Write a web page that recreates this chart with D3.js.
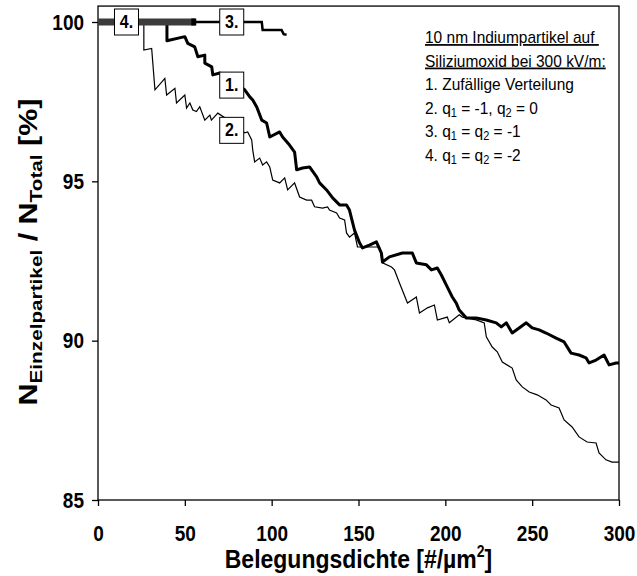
<!DOCTYPE html>
<html>
<head>
<meta charset="utf-8">
<title>Einzelpartikel vs. Belegungsdichte</title>
<script src="https://cdn.jsdelivr.net/npm/d3@7"></script>
<style>
    body { margin: 0; background: #fff; }
    svg text { font-family: "Liberation Sans", Arial, sans-serif; fill: #000; }
</style>
</head>
<body>
<svg id="chart" width="637" height="576"></svg>

<script type="text/javascript">
    // values
    const xTicks = [0, 50, 100, 150, 200, 250, 300];
    const yTicks = [85, 90, 95, 100];

    /// 1. random distribution (thick)
    const series1 = [
        [0, 100], [39.7, 100], [39.7, 99.41], [50.0, 99.54], [51.7, 99.33], [55.7, 99.22],
        [57.5, 98.91], [61.5, 98.96], [61.5, 98.71], [65.5, 98.59], [66.1, 98.34], [70.1, 98.40],
        [78, 98.1], [84.5, 97.87], [87.4, 97.65], [89.1, 97.55], [91.4, 97.33], [94.3, 96.92],
        [97.1, 96.83], [98.9, 96.39], [104.6, 96.55], [106.3, 96.39], [110.3, 96.14], [113.2, 95.92],
        [114.4, 95.36], [117.8, 95.42], [121.8, 95.45], [125.9, 95.14], [127.6, 94.95], [131.6, 94.73],
        [135.1, 94.48], [139.1, 94.26], [143.1, 94.26], [144.8, 94.10], [147.7, 93.47], [150.6, 93.07],
        [152.3, 92.91], [156.3, 93.00], [160.3, 93.10], [163.2, 92.75], [163.8, 92.47], [167.8, 92.63],
        [175.3, 92.75], [181.0, 92.75], [183.3, 92.44], [189.1, 92.38], [192.0, 92.22], [195.4, 92.28],
        [197.7, 92.06], [201.1, 91.69], [204.0, 91.37], [206.3, 91.18], [208.0, 90.96], [212.1, 90.71],
        [217.8, 90.71], [223.6, 90.65], [229.3, 90.56], [232.2, 90.43], [235.1, 90.56], [238.5, 90.24],
        [242.5, 90.40], [246.6, 90.56], [250.0, 90.40], [254.0, 90.34], [258.0, 90.24], [263.8, 90.08],
        [268.4, 89.96], [272.4, 89.61], [277.0, 89.55], [281.0, 89.46], [282.8, 89.30], [286.8, 89.39],
        [291.4, 89.55], [294.3, 89.24], [298.3, 89.30], [300, 89.30]
    ];

    /// 2. q1 = -1, q2 = 0 (thin)
    const series2 = [
        [0, 100], [26.4, 100], [26.4, 99.12], [30.9, 99.17], [31.8, 98.55], [32.8, 97.87],
        [38.5, 98.23], [39.5, 97.71], [44.3, 97.92], [45.2, 97.46], [50.0, 97.71], [51.0, 97.30],
        [52.9, 97.46], [54.6, 97.24], [56.7, 97.19], [58.6, 97.34], [61.5, 96.92], [64.4, 97.08],
        [65.3, 96.92], [69.0, 97.14], [77.6, 96.83], [84.5, 96.52], [86.2, 96.55], [88.5, 96.30],
        [89.1, 95.98], [90.2, 95.61], [93.1, 95.73], [94.8, 95.51], [97.1, 95.61], [98.9, 95.45],
        [100.6, 95.04], [104.6, 94.95], [107.5, 95.11], [109.2, 94.73], [113.2, 94.95], [116.1, 94.51],
        [120.1, 94.41], [123.0, 94.41], [124.7, 94.20], [129.3, 94.16], [132.2, 94.20], [133.3, 94.10],
        [137.4, 94.01], [139.1, 93.85], [142.0, 93.79], [143.1, 93.38], [144.8, 93.25], [147.7, 93.38],
        [149.4, 92.94], [152.3, 92.94], [162.1, 92.94], [163.8, 92.44], [169.0, 92.31], [170.7, 92.22],
        [173.6, 91.81], [178.2, 91.18], [183.3, 91.37], [185.1, 90.87], [189.7, 91.03], [193.7, 91.12],
        [195.4, 90.65], [201.1, 90.74], [202.3, 90.56], [208.0, 90.81], [209.8, 90.74], [217.8, 90.65],
        [222.4, 90.56], [223.6, 90.12], [227.0, 89.80], [229.9, 89.65], [232.8, 89.33], [238.5, 89.14],
        [240.8, 88.77], [244.3, 88.55], [248.3, 88.39], [252.9, 88.30], [258.0, 88.14], [260.9, 87.98],
        [265.5, 87.89], [268.4, 87.51], [273.0, 87.29], [277.0, 86.98], [281.6, 86.82], [286.8, 86.79],
        [288.5, 86.48], [292.5, 86.26], [296.0, 86.19], [300, 86.19]
    ];

    /// 3. q1 = q2 = -1
    const series3 = [[55, 100], [94.3, 100], [94.8, 99.75], [105.7, 99.75], [106.9, 99.62], [108.6, 99.60]];

    /// 4. q1 = q2 = -2
    const series4 = [[0, 100], [56, 100]];

    // number boxes: [label, x, y] in data units
    const curveLabels = [["4.", 16.4, 100], ["3.", 77, 100], ["1.", 77, 98.02], ["2.", 77, 96.6]];

    const legendLines = [
        "10 nm Indiumpartikel auf ",
        "Siliziumoxid bei 300 kV/m:",
        "1. Zufällige Verteilung",
        "2. q_1 = -1, q_2 = 0",
        "3. q_1 = q_2 = -1",
        "4. q_1 = q_2 = -2"
    ];

    const xTitle = "Belegungsdichte [#/µm";
    const stretch = 1.15; /// the original picture is a bit taller than wide

    const svg = d3.select('#chart');
    const x = d3.scaleLinear().domain([0, 300]).range([98, 619]);
    const y = d3.scaleLinear().domain([85, 100]).range([500, 22]);

    /// frame
    svg.append("rect")
        .attr("x", x(0))
        .attr("y", y(100.5))
        .attr("width", x(300) - x(0))
        .attr("height", y(85) - y(100.5))
        .attr("fill", "none")
        .attr("stroke", "#000")
        .attr("stroke-width", 1.3);

    /// y axis
    const gy = svg.append("g")
        .attr("transform", `translate(${x(0)},0)`)
        .call(d3.axisLeft(y).tickValues(yTicks).tickSize(6).tickPadding(8).tickFormat(d3.format("d")));
    gy.select(".domain").remove();
    gy.selectAll(".tick line").attr("stroke", "#000").attr("stroke-width", 1.3);
    gy.selectAll(".tick text")
        .attr("font-size", 19)
        .attr("font-weight", "bold")
        .attr("dy", "0.33em")
        .attr("transform", `scale(1,${stretch})`);

    /// x axis
    const gx = svg.append("g")
        .attr("transform", `translate(0,${y(85)})`)
        .call(d3.axisBottom(x).tickValues(xTicks).tickSize(6).tickPadding(10).tickFormat(d3.format("d")));
    gx.select(".domain").remove();
    gx.selectAll(".tick line").attr("stroke", "#000").attr("stroke-width", 1.3);
    gx.selectAll(".tick text")
        .attr("font-size", 19)
        .attr("font-weight", "bold")
        .attr("y", 25 / stretch)
        .attr("transform", `scale(1,${stretch})`);

    /// curves
    const line = d3.line().x(d => x(d[0])).y(d => y(d[1]));

    svg.append("path").datum(series2)
        .attr("fill", "none").attr("stroke", "#000").attr("stroke-width", 1.2)
        .attr("d", line);
    svg.append("path").datum(series1)
        .attr("fill", "none").attr("stroke", "#000").attr("stroke-width", 3)
        .attr("stroke-linejoin", "round")
        .attr("d", line);
    svg.append("path").datum(series4)
        .attr("fill", "none").attr("stroke", "#3c3c3c").attr("stroke-width", 7)
        .attr("d", line);
    svg.append("rect")
        .attr("x", x(series4[series4.length - 1][0]) - 4)
        .attr("y", y(series4[series4.length - 1][1]) - 3.5)
        .attr("width", 5).attr("height", 7)
        .attr("fill", "#000");
    svg.append("path").datum(series3)
        .attr("fill", "none").attr("stroke", "#000").attr("stroke-width", 2.5)
        .attr("d", line);

    /// number boxes
    const boxes = svg.selectAll(".curve-label")
        .data(curveLabels)
        .join("g")
        .attr("class", "curve-label")
        .attr("transform", d => `translate(${x(d[1])},${y(d[2])})`);
    boxes.append("rect")
        .attr("x", -12).attr("y", -13)
        .attr("width", 24).attr("height", 26)
        .attr("fill", "#fff").attr("stroke", "#000").attr("stroke-width", 1);
    boxes.append("text")
        .attr("text-anchor", "middle")
        .attr("font-size", 16)
        .attr("font-weight", "bold")
        .attr("transform", `scale(1,${stretch})`)
        .attr("y", 5.5 / stretch)
        .text(d => d[0]);

    /// legend text
    legendLines.forEach((str, i) => {
        const t = svg.append("text")
            .attr("transform", `translate(425,${43 + i * 23.5}) scale(1,1.12)`)
            .attr("font-size", 15.5)
            .style("white-space", "pre");
        if (i < 2) t.attr("text-decoration", "underline");
        str.split(/_(\d)/).forEach((part, j) => {
            if (j % 2 === 1) {
                t.append("tspan").attr("font-size", 11).attr("dy", 3).text(part);
            } else if (j > 0) {
                t.append("tspan").attr("dy", -3).text(part);
            } else {
                t.append("tspan").text(part);
            }
        });
    });

    /// axis titles
    const xt = svg.append("text")
        .attr("transform", `translate(${(x(0) + x(300)) / 2},568) scale(1,${stretch})`)
        .attr("text-anchor", "middle")
        .attr("font-size", 23)
        .attr("font-weight", "bold");
    xt.append("tspan").text(xTitle);
    xt.append("tspan").attr("font-size", 14).attr("dy", -10).text("2");
    xt.append("tspan").attr("dy", 10).text("]");

    const yt = svg.append("text")
        .attr("transform", `translate(37,252) rotate(-90) scale(1.22,1)`)
        .attr("text-anchor", "middle")
        .attr("font-size", 25)
        .attr("font-weight", "bold");
    yt.append("tspan").text("N");
    yt.append("tspan").attr("font-size", 17).attr("dy", 5).text("Einzelpartikel");
    yt.append("tspan").attr("dy", -5).text(" / N");
    yt.append("tspan").attr("font-size", 17).attr("dy", 5).text("Total");
    yt.append("tspan").attr("dy", -5).text(" [%]");
</script>
</body>
</html>
